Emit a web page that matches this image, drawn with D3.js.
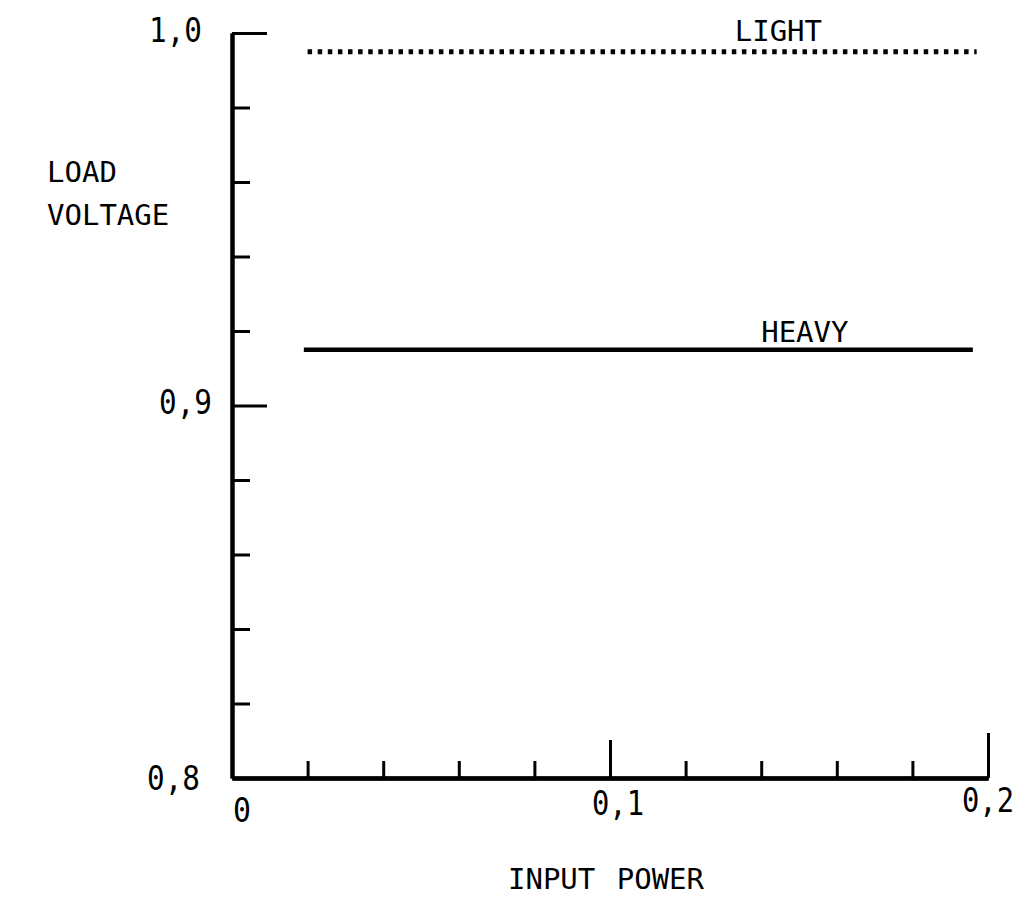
<!DOCTYPE html>
<html>
<head>
<meta charset="utf-8">
<script src="https://cdn.jsdelivr.net/npm/d3@7"></script>
<style>
  html, body { margin: 0; padding: 0; background: #fff; }
  svg { display: block; }
  text { font-family: "DejaVu Sans Mono", monospace; fill: #000; }
</style>
</head>
<body>
<svg id="chart" width="1025" height="898"></svg>
<script>
// ---- data ----
const xMajorTicks = [0, 0.1, 0.2];
const xMajorLabels = ["0", "0,1", "0,2"];
const xMinorTicks = [0.02, 0.04, 0.06, 0.08, 0.12, 0.14, 0.16, 0.18];
const yMajorTicks = [0.8, 0.9, 1.0];
const yMajorLabels = ["0,8", "0,9", "1,0"];
const yMinorTicks = [0.82, 0.84, 0.86, 0.88, 0.92, 0.94, 0.96, 0.98];
const seriesNames = ["LIGHT", "HEAVY"];
const lightX = [0.02, 0.197];
const lightY = [0.995, 0.995];
const heavyX = [0.019, 0.196];
const heavyY = [0.915, 0.915];

// ---- layout ----
const svg = d3.select("#chart");
const x = d3.scaleLinear().domain([0, 0.2]).range([232, 988]);
const y = d3.scaleLinear().domain([0.8, 1.0]).range([778, 33]);

const axisStroke = 4;

// y axis minor ticks
svg.append("g").attr("transform", `translate(${x(0)},0)`)
  .call(d3.axisLeft(y).tickValues(yMinorTicks).tickSize(-18).tickSizeOuter(0).tickFormat(""));
// y axis major ticks (0.9, 1.0)
svg.append("g").attr("transform", `translate(${x(0)},0)`)
  .call(d3.axisLeft(y).tickValues(yMajorTicks.filter(v => v > 0.8)).tickSize(-35).tickSizeOuter(0).tickFormat(""));
// y tick labels
const yLabRight = [200, 212, 202];
const yLabDy = [12, 8, 9];
svg.append("g").selectAll("text").data(yMajorTicks).join("text")
  .attr("x", (d, i) => yLabRight[i] - 53)
  .attr("y", (d, i) => y(d) + yLabDy[i])
  .attr("font-size", 34).attr("textLength", 53).attr("lengthAdjust", "spacingAndGlyphs")
  .text((d, i) => yMajorLabels[i]);

// x axis minor ticks
svg.append("g").attr("transform", `translate(0,${y(0.8)})`)
  .call(d3.axisBottom(x).tickValues(xMinorTicks).tickSize(-17).tickSizeOuter(0).tickFormat(""));
// x major ticks: 0.1 and 0.2 with different heights
svg.append("g").attr("transform", `translate(0,${y(0.8)})`)
  .call(d3.axisBottom(x).tickValues([0.1]).tickSize(-38).tickSizeOuter(0).tickFormat(""));
svg.append("g").attr("transform", `translate(0,${y(0.8)})`)
  .call(d3.axisBottom(x).tickValues([0.2]).tickSize(-45).tickSizeOuter(0).tickFormat(""));
// x tick labels
const xLabLeft = [233, 592, 962];
const xLabDy = [44, 37, 34];
svg.append("g").selectAll("text").data(xMajorTicks).join("text")
  .attr("x", (d, i) => xLabLeft[i])
  .attr("y", (d, i) => y(0.8) + xLabDy[i])
  .attr("font-size", 34)
  .each(function(d, i) {
    if (xMajorLabels[i].length > 1) d3.select(this).attr("textLength", 52).attr("lengthAdjust", "spacingAndGlyphs");
    else d3.select(this).attr("textLength", 18).attr("lengthAdjust", "spacingAndGlyphs");
  })
  .text((d, i) => xMajorLabels[i]);

svg.selectAll(".domain").attr("stroke", "#000").attr("stroke-width", axisStroke);
svg.selectAll(".tick line").attr("stroke", "#000").attr("stroke-width", 3);

// ---- series ----
const line = d3.line().x(d => x(d[0])).y(d => y(d[1]));
svg.append("path")
  .datum(lightX.map((v, i) => [v, lightY[i]]))
  .attr("d", line).attr("fill", "none").attr("stroke", "#000")
  .attr("stroke-width", 5).attr("stroke-dasharray", "4.5,5.6");
svg.append("path")
  .datum(heavyX.map((v, i) => [v, heavyY[i]]))
  .attr("d", line).attr("fill", "none").attr("stroke", "#000")
  .attr("stroke-width", 4.5);

// series labels
svg.append("text").attr("x", x(0.133)).attr("y", y(lightY[0]) - 11)
  .attr("font-size", 29).text(seriesNames[0]);
svg.append("text").attr("x", x(0.14)).attr("y", y(heavyY[0]) - 8)
  .attr("font-size", 29).text(seriesNames[1]);

// axis titles
svg.append("text").attr("x", 47).attr("y", 182).attr("font-size", 29).text("LOAD");
svg.append("text").attr("x", 47).attr("y", 225).attr("font-size", 29).text("VOLTAGE");
svg.append("text").attr("x", 606).attr("y", 889).attr("text-anchor", "middle")
  .attr("font-size", 29).attr("word-spacing", 4).text("INPUT POWER");
</script>
</body>
</html>
